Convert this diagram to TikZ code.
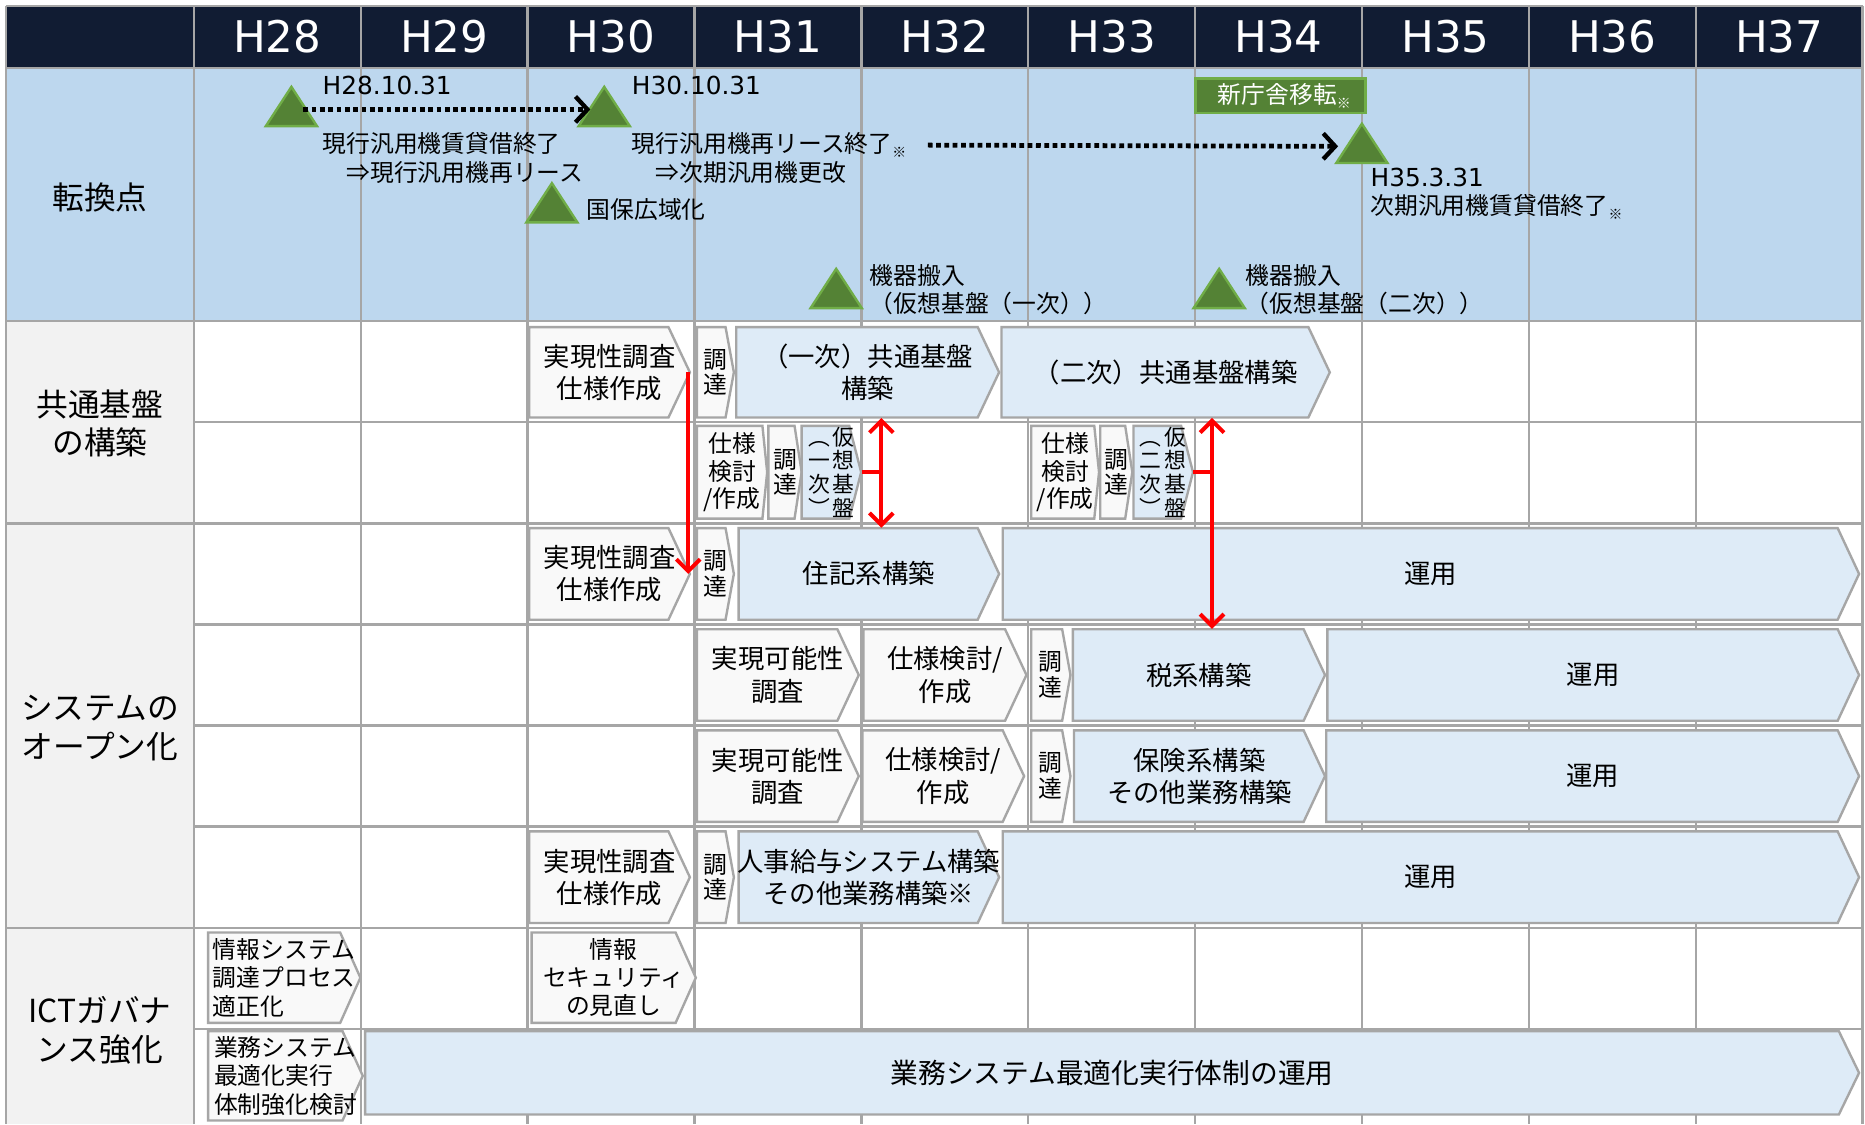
\documentclass[tikz,border=0pt]{standalone}
\usepackage{fontspec}
\setmainfont{Noto Sans CJK JP}
\newfontfamily\lat{DejaVu Sans}
\usetikzlibrary{arrows.meta}
\definecolor{navy}{HTML}{111C33}
\definecolor{rowblue}{HTML}{BDD7EE}
\definecolor{lblgray}{HTML}{F2F2F2}
\definecolor{gridgray}{HTML}{A6A6A6}
\definecolor{boxblue}{HTML}{DEEBF7}
\definecolor{boxgray}{HTML}{F9F9F9}
\definecolor{trifill}{HTML}{548235}
\definecolor{triedge}{HTML}{70AD47}
\newcommand\kome{{\fontsize{7}{7}\selectfont\raisebox{-2.5pt}{※}}}
\pgfdeclarelayer{bg}\pgfdeclarelayer{shp}\pgfsetlayers{bg,shp,main}
% shape style, text style, name, x1, y1, x2, y2, tip, text
\newcommand\chev[9]{%
  \pgfmathsetmacro\mycw{(#6-#4)*0.6}%
  \pgfmathsetmacro\mych{(#7-#5)*0.6}%
  \begin{pgfonlayer}{shp}%
    \draw[#1] (#4,#5) -- ({#6-#8},#5) -- (#6,{(#5+#7)/2}) -- ({#6-#8},#7) -- (#4,#7) -- cycle;%
  \end{pgfonlayer}%
  \node[#2, minimum width=\mycw pt, minimum height=\mych pt] (#3) at ({(#4+#6)/2},{(#5+#7)/2}) {#9};%
}
\newcommand\tri[3]{%
  \draw[trist] (#2,#3) -- ({#2+21.5},{#3+33}) -- ({#2-21.5},{#3+33}) -- cycle;%
  \coordinate (#1) at (#2,{#3+19});%
}
\tikzset{
 gl/.style={draw=gridgray, line width=1.2pt},
 boxG/.style={draw=gridgray, line width=1.2pt, fill=boxgray},
 boxB/.style={draw=gridgray, line width=1.2pt, fill=boxblue},
 tx/.style={inner sep=0pt, align=center, font=\fontsize{13.3}{16.2}\selectfont},
 txs/.style={inner sep=0pt, align=center, font=\fontsize{12}{14}\selectfont},
 txv/.style={inner sep=0pt, align=center, font=\fontsize{12}{13}\selectfont},
 txvv/.style={inner sep=0pt, align=center, font=\fontsize{11}{12}\selectfont},
 txl/.style={inner sep=0pt, align=left, font=\fontsize{12}{14.4}\selectfont},
 txb/.style={inner sep=0pt, align=center, font=\fontsize{14}{17}\selectfont},
 hdr/.style={text=white, font=\lat\fontsize{22}{24}\selectfont, inner sep=0pt},
 lab/.style={align=center, font=\fontsize{16}{19.5}\selectfont, inner sep=0pt},
 note/.style={anchor=west, align=left, inner sep=0pt, font=\fontsize{12}{14.4}\selectfont},
 latnote/.style={anchor=west, inner sep=0pt, font=\lat\fontsize{12.5}{15}\selectfont},
 trist/.style={fill=trifill, draw=triedge, line width=1.2pt},
 dotarr/.style={line width=2.4pt, dash pattern=on 2.4pt off 1.8pt, -{Straight Barb[length=6pt,width=13pt,line width=2.2pt]}},
 redarr/.style={draw=red, line width=2pt},
 redone/.style={redarr, -{Straight Barb[length=6pt,width=12pt]}},
 redtwo/.style={redarr, {Straight Barb[length=6pt,width=12pt]}-{Straight Barb[length=6pt,width=12pt]}},
}
\begin{document}
\begin{tikzpicture}[x=0.6pt, y=-0.6pt]
\useasboundingbox (0,0) rectangle (1568,945);
\begin{pgfonlayer}{bg}
  \fill[white] (0,0) rectangle (1568,945);
  \fill[navy] (5,5) rectangle (1566,57);
  \fill[rowblue] (5,57) rectangle (1566,270);
  \fill[lblgray] (5,270) rectangle (163,945);
  \draw[gl] (5,5) -- (5,945);
  \foreach \k in {0,...,10} \draw[gl] ({163+140.3*\k},5) -- ({163+140.3*\k},945);
  \foreach \y in {5,57,270,440,780} \draw[gl] (5,\y) -- (1566,\y);
  \foreach \y in {355,525,610,695,865} \draw[gl] (163,\y) -- (1566,\y);
\end{pgfonlayer}

% header
\foreach \n [count=\k from 0] in {28,...,37}
  \node[hdr] (h\n) at ({163+140.3*(\k+0.5)},31) {H\n};

% row labels
\node[lab] (l0) at (84,166) {転換点};
\node[lab] (l1) at (84,356) {共通基盤\\の構築};
\node[lab] (l2) at (84,612) {システムの\\オープン化};
\node[lab] (l3) at (84,866) {ICTガバナ\\ンス強化};

% turning points
\tri{t1}{245}{73}
\tri{t2}{508}{73}
\tri{t3}{1145}{104}
\tri{tk}{464}{154}
\tri{tm1}{703}{226}
\tri{tm2}{1025}{226}

\node[latnote] (d1) at (271,72) {H28.10.31};
\node[note] (n1) at (271,133) {現行汎用機賃貸借終了\\\hspace*{1em}⇒現行汎用機再リース};
\node[latnote] (d2) at (531,72) {H30.10.31};
\node[note] (n2) at (531,133) {現行汎用機再リース終了\kome\\\hspace*{1em}⇒次期汎用機更改};
\node[note] (n3) at (493,176) {国保広域化};
\node[latnote] (d3) at (1152,149) {H35.3.31};
\node[note] (n4) at (1152,174) {次期汎用機賃貸借終了\kome};
\node[note] (n5) at (731,243.5) {機器搬入\\（仮想基盤（一次））};
\node[note] (n6) at (1047,243.5) {機器搬入\\（仮想基盤（二次））};
\node[fill=trifill, draw=triedge, line width=1.2pt, text=white, font=\fontsize{12}{14}\selectfont,
      minimum width=85.8pt, minimum height=17.4pt, inner sep=0pt] (shin) at (1076.5,80.5) {\hspace{4pt}新庁舎移転\kome};

\coordinate (a1s) at ([xshift=6pt]t1);
\coordinate (a1e) at ([xshift=-7pt]t2);
\draw[dotarr] (a1s) -- (a1e);
\coordinate (a2s) at (780,122);
\coordinate (a2e) at ([xshift=-12pt]t3);
\draw[dotarr] (a2s) -- (a2e);

% common platform
\chev{boxG}{tx}{fs1}{445}{275}{580}{351}{18}{実現性調査\\仕様作成}
\chev{boxG}{txv}{ch1}{586}{275}{617}{351}{7}{調\\達}
\chev{boxB}{tx}{k1}{619}{275}{840}{351}{18}{（一次）共通基盤\\構築}
\chev{boxB}{tx}{k2}{842}{275}{1118}{351}{18}{（二次）共通基盤構築}

\chev{boxG}{txs}{sk1}{586}{358}{645}{436}{4}{仕様\\検討\\/作成}
\chev{boxG}{txv}{ch2}{646}{358}{674}{436}{6}{調\\達}
\chev{boxB}{txvv}{vb1}{674}{358}{724}{436}{10}{︵\hspace{1.5pt}仮\\一\hspace{1.5pt}想\\次\hspace{1.5pt}基\\︶\hspace{1.5pt}盤}
\chev{boxG}{txs}{sk2}{867}{358}{924}{436}{4}{仕様\\検討\\/作成}
\chev{boxG}{txv}{ch3}{925}{358}{952}{436}{6}{調\\達}
\chev{boxB}{txvv}{vb2}{953}{358}{1003}{436}{10}{︵\hspace{1.5pt}仮\\二\hspace{1.5pt}想\\次\hspace{1.5pt}基\\︶\hspace{1.5pt}盤}

% open systems
\chev{boxG}{tx}{fs2}{445}{444}{580}{521}{18}{実現性調査\\仕様作成}
\chev{boxG}{txv}{ch4}{586}{444}{617}{521}{7}{調\\達}
\chev{boxB}{tx}{jk}{621}{444}{840}{521}{18}{住記系構築}
\chev{boxB}{tx}{un1}{843}{444}{1563}{521}{18}{運用}

\chev{boxG}{tx}{jg1}{586}{529}{722}{606}{18}{実現可能性\\調査}
\chev{boxG}{tx}{sk3}{726}{529}{863}{606}{18}{仕様検討/\\作成}
\chev{boxG}{txv}{ch5}{867}{529}{900}{606}{7}{調\\達}
\chev{boxB}{tx}{zei}{902}{529}{1114}{606}{18}{税系構築}
\chev{boxB}{tx}{un2}{1116}{529}{1563}{606}{18}{運用}

\chev{boxG}{tx}{jg2}{586}{614}{722}{691}{18}{実現可能性\\調査}
\chev{boxG}{tx}{sk4}{725}{614}{861}{691}{18}{仕様検討/\\作成}
\chev{boxG}{txv}{ch6}{867}{614}{900}{691}{7}{調\\達}
\chev{boxB}{tx}{hk}{903}{614}{1114}{691}{18}{保険系構築\\その他業務構築}
\chev{boxB}{tx}{un3}{1115}{614}{1563}{691}{18}{運用}

\chev{boxG}{tx}{fs3}{445}{699}{580}{776}{18}{実現性調査\\仕様作成}
\chev{boxG}{txv}{ch7}{586}{699}{617}{776}{7}{調\\達}
\chev{boxB}{tx}{jj}{621}{699}{840}{776}{18}{人事給与システム構築\\その他業務構築※}
\chev{boxB}{tx}{un4}{843}{699}{1563}{776}{18}{運用}

% ICT governance
\chev{boxG}{txl}{ic1}{175}{784}{303}{860}{17}{情報システム\\調達プロセス\\適正化}
\chev{boxG}{txs}{ic2}{447}{784}{585}{860}{17}{情報\\セキュリティ\\の見直し}
\chev{boxG}{txl}{ic3}{175}{867}{305}{942}{17}{業務システム\\最適化実行\\体制強化検討}
\chev{boxB}{txb}{ic4}{307}{867}{1563}{937}{17}{業務システム最適化実行体制の運用}

% red connectors
\draw[redone] ([xshift=-1pt]fs1.east) -- ([xshift=-1pt]fs2.east);
\coordinate (r1) at (741,397);
\draw[redarr] (vb1.east) -- (r1);
\draw[redtwo] (r1 |- k1.south) -- (r1 |- jk.north);
\coordinate (r2) at (1019,397);
\draw[redarr] (vb2.east) -- (r2);
\draw[redtwo] (r2 |- k2.south) -- (r2 |- zei.north);
\end{tikzpicture}
\end{document}
